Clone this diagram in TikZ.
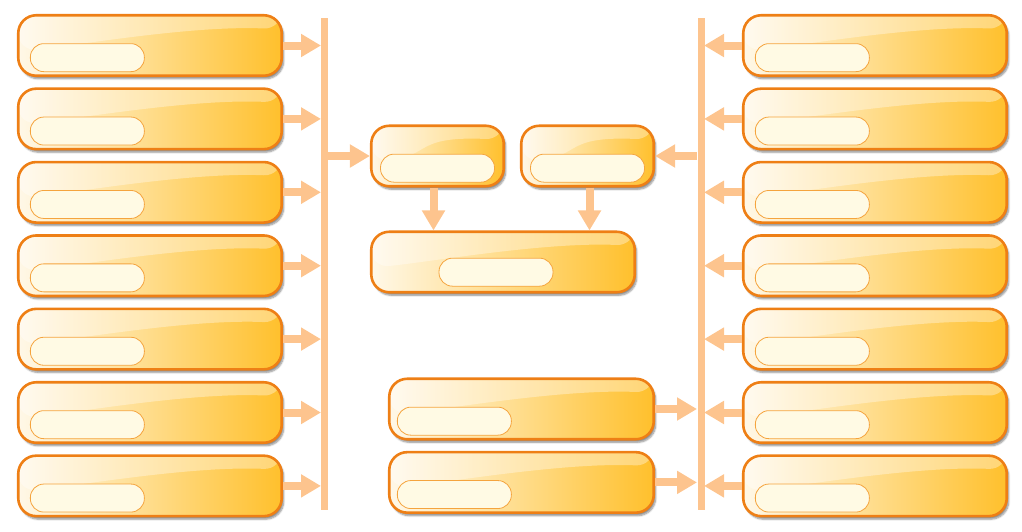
\documentclass[tikz,border=0pt]{standalone}
\usepackage{xcolor}
\usepackage{tikz}
\usetikzlibrary{arrows.meta, positioning, shadows.blur}

\definecolor{boxline}{HTML}{EE7F15}
\definecolor{boxlight}{HTML}{FFF8E8}
\definecolor{boxdark}{HTML}{FFC02C}
\definecolor{pillfill}{HTML}{FFFAE4}
\definecolor{pillline}{HTML}{F5A43E}
\definecolor{flowcol}{HTML}{FDC48E}

\begin{document}
\begin{tikzpicture}[
    x=1pt, y=-1pt,
    node distance=10.3pt,
    box/.style={rectangle, draw=boxline, line width=2.6pt, rounded corners=18pt, inner sep=0pt,
        minimum width=263.5pt, minimum height=60.5pt, left color=boxlight, right color=boxdark,
        blur shadow={shadow xshift=2pt, shadow yshift=-3pt, shadow opacity=45, shadow blur steps=6},
        path picture={\fill[white, opacity=0.35] (path picture bounding box.north west) -- (path picture bounding box.north east)
            -- ([yshift=-14pt]path picture bounding box.north east)
            .. controls ([xshift=-90pt, yshift=-10pt]path picture bounding box.north east) and ([xshift=60pt, yshift=-30pt]path picture bounding box.north west)
            .. ([yshift=-36pt]path picture bounding box.north west) -- cycle;}},
    smallbox/.style={box, minimum width=132.5pt},
    pill/.style={rectangle, draw=pillline, line width=0.8pt, fill=pillfill, rounded corners=13.5pt, inner sep=0pt,
        minimum width=114pt, minimum height=28pt},
    arrow/.style={-{Triangle[length=20pt, width=22pt]}, line width=8pt, flowcol},
    bar/.style={line width=7pt, flowcol}
]
\useasboundingbox (0,0) rectangle (1022,531);

% left column
\node[box] (L1) at (150,45.5) {};
\node[box, below=of L1] (L2) {};
\node[box, below=of L2] (L3) {};
\node[box, below=of L3] (L4) {};
\node[box, below=of L4] (L5) {};
\node[box, below=of L5] (L6) {};
\node[box, below=of L6] (L7) {};

% right column
\node[box] (R1) at (875,45.5) {};
\node[box, below=of R1] (R2) {};
\node[box, below=of R2] (R3) {};
\node[box, below=of R3] (R4) {};
\node[box, below=of R4] (R5) {};
\node[box, below=of R5] (R6) {};
\node[box, below=of R6] (R7) {};

% middle
\node[smallbox] (A) at (437.5,156) {};
\node[smallbox] (B) at (587.5,156) {};
\node[box] (C) at (503,262) {};
\node[box, minimum width=264.5pt] (D) at (521.5,409) {};
\node[box, minimum width=264.5pt, below=of D] (E) {};

% labels inside the boxes
\foreach \b in {L1,L2,L3,L4,L5,L6,L7,R1,R2,R3,R4,R5,R6,R7}
  \node[pill, anchor=south west] (\b p) at ([xshift=13pt, yshift=5pt]\b.south west) {};
\foreach \b in {D,E}
  \node[pill, anchor=south west] (\b p) at ([xshift=9pt, yshift=5pt]\b.south west) {};
\node[pill, anchor=south] (Ap) at ([yshift=5pt]A.south) {};
\node[pill, anchor=south] (Bp) at ([yshift=5pt]B.south) {};
\node[pill, anchor=south] (Cp) at ([xshift=-7pt, yshift=7pt]C.south) {};

% collector bars
\coordinate (ltop) at (324,18);
\coordinate (lbot) at (324,510);
\coordinate (rtop) at (701,18);
\coordinate (rbot) at (701,510);
\coordinate (lin) at (321,0);
\coordinate (lout) at (327,0);
\coordinate (rin) at (704,0);
\coordinate (rin2) at (697,0);
\draw[bar] (ltop) -- (lbot);
\draw[bar] (rtop) -- (rbot);

\foreach \b in {L1,L2,L3,L4,L5,L6,L7}
  \draw[arrow] (\b.east) -- (\b -| lin);
\foreach \b in {R1,R2,R3,R4,R5,R6,R7}
  \draw[arrow] (\b.west) -- (\b -| rin);
\draw[arrow] (A -| lout) -- (A.west);
\draw[arrow] (B -| rin2) -- (B.east);
\draw[arrow] ([xshift=-4pt]A.south) -- ([xshift=-4pt]A.south |- C.north);
\draw[arrow] ([xshift=2pt]B.south) -- ([xshift=2pt]B.south |- C.north);
\draw[arrow] (D.east) -- (D -| rin2);
\draw[arrow] (E.east) -- (E -| rin2);
\end{tikzpicture}
\end{document}
